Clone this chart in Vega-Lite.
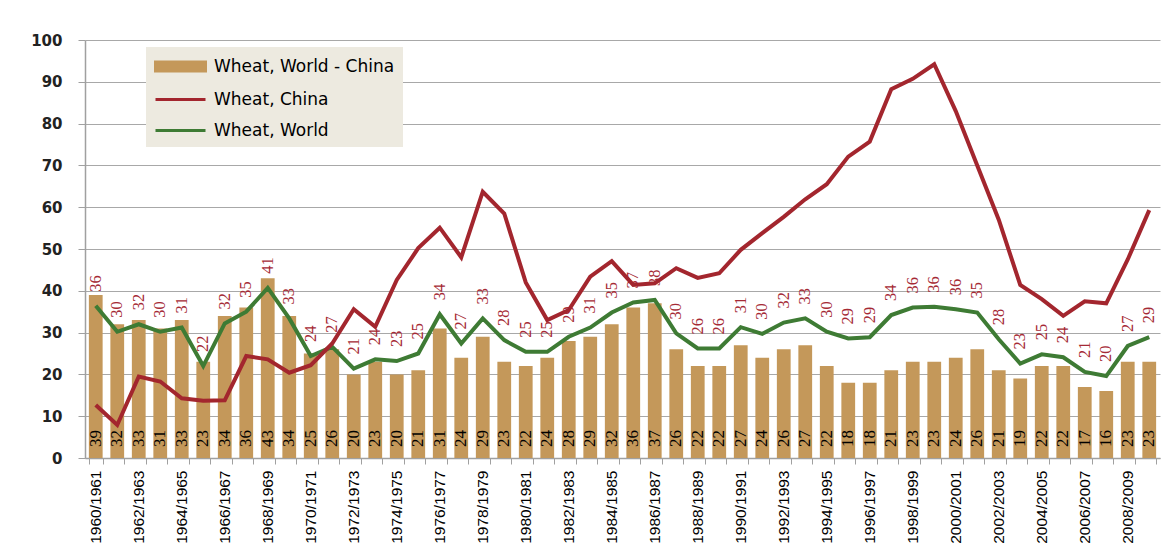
{
  "$schema": "https://vega.github.io/schema/vega-lite/v6.json",
  "width": 1075,
  "height": 418,
  "autosize": {"type": "none"},
  "padding": {"left": 85, "top": 40, "right": 5, "bottom": 100},
  "background": "white",
  "data": {
    "values": [
      {"season": "1960/1961", "diff": 39, "china": 12.7, "world": 36.4},
      {"season": "1961/1962", "diff": 32, "china": 7.9, "world": 30.2},
      {"season": "1962/1963", "diff": 33, "china": 19.5, "world": 32.0},
      {"season": "1963/1964", "diff": 31, "china": 18.3, "world": 30.2},
      {"season": "1964/1965", "diff": 33, "china": 14.3, "world": 31.2},
      {"season": "1965/1966", "diff": 23, "china": 13.7, "world": 22.0},
      {"season": "1966/1967", "diff": 34, "china": 13.8, "world": 32.2},
      {"season": "1967/1968", "diff": 36, "china": 24.4, "world": 35.0},
      {"season": "1968/1969", "diff": 43, "china": 23.6, "world": 40.7},
      {"season": "1969/1970", "diff": 34, "china": 20.4, "world": 33.4},
      {"season": "1970/1971", "diff": 25, "china": 22.2, "world": 24.4},
      {"season": "1971/1972", "diff": 26, "china": 27.4, "world": 26.6},
      {"season": "1972/1973", "diff": 20, "china": 35.6, "world": 21.4},
      {"season": "1973/1974", "diff": 23, "china": 31.4, "world": 23.6},
      {"season": "1974/1975", "diff": 20, "china": 42.6, "world": 23.2},
      {"season": "1975/1976", "diff": 21, "china": 50.2, "world": 25.0},
      {"season": "1976/1977", "diff": 31, "china": 55.1, "world": 34.4},
      {"season": "1977/1978", "diff": 24, "china": 48.0, "world": 27.4},
      {"season": "1978/1979", "diff": 29, "china": 63.7, "world": 33.4},
      {"season": "1979/1980", "diff": 23, "china": 58.5, "world": 28.2},
      {"season": "1980/1981", "diff": 22, "china": 42.0, "world": 25.4},
      {"season": "1981/1982", "diff": 24, "china": 33.0, "world": 25.4},
      {"season": "1982/1983", "diff": 28, "china": 35.4, "world": 29.0},
      {"season": "1983/1984", "diff": 29, "china": 43.4, "world": 31.2},
      {"season": "1984/1985", "diff": 32, "china": 47.1, "world": 34.8},
      {"season": "1985/1986", "diff": 36, "china": 41.4, "world": 37.2},
      {"season": "1986/1987", "diff": 37, "china": 41.8, "world": 37.8},
      {"season": "1987/1988", "diff": 26, "china": 45.4, "world": 29.8},
      {"season": "1988/1989", "diff": 22, "china": 43.1, "world": 26.2},
      {"season": "1989/1990", "diff": 22, "china": 44.2, "world": 26.2},
      {"season": "1990/1991", "diff": 27, "china": 49.8, "world": 31.3},
      {"season": "1991/1992", "diff": 24, "china": 53.8, "world": 29.7},
      {"season": "1992/1993", "diff": 26, "china": 57.7, "world": 32.4},
      {"season": "1993/1994", "diff": 27, "china": 61.9, "world": 33.4},
      {"season": "1994/1995", "diff": 22, "china": 65.5, "world": 30.2},
      {"season": "1995/1996", "diff": 18, "china": 72.1, "world": 28.6},
      {"season": "1996/1997", "diff": 18, "china": 75.7, "world": 28.9},
      {"season": "1997/1998", "diff": 21, "china": 88.2, "world": 34.2},
      {"season": "1998/1999", "diff": 23, "china": 90.7, "world": 36.0},
      {"season": "1999/2000", "diff": 23, "china": 94.2, "world": 36.2},
      {"season": "2000/2001", "diff": 24, "china": 83.0, "world": 35.6},
      {"season": "2001/2002", "diff": 26, "china": 70.0, "world": 34.8},
      {"season": "2002/2003", "diff": 21, "china": 57.0, "world": 28.4},
      {"season": "2003/2004", "diff": 19, "china": 41.4, "world": 22.6},
      {"season": "2004/2005", "diff": 22, "china": 38.0, "world": 24.8},
      {"season": "2005/2006", "diff": 22, "china": 34.0, "world": 24.1},
      {"season": "2006/2007", "diff": 17, "china": 37.5, "world": 20.6},
      {"season": "2007/2008", "diff": 16, "china": 37.0, "world": 19.6},
      {"season": "2008/2009", "diff": 23, "china": 47.5, "world": 26.8},
      {"season": "2009/2010", "diff": 23, "china": 59.3, "world": 28.9}
    ]
  },
  "encoding": {
    "x": {
      "field": "season",
      "type": "nominal",
      "sort": null,
      "title": null,
      "scale": {"paddingInner": 0.36, "paddingOuter": 0.18},
      "axis": {
        "labelAngle": 270,
        "labelAlign": "right",
        "labelBaseline": "middle",
        "labelFont": "Liberation Sans",
        "labelFontSize": 15.5,
        "labelColor": "#000000",
        "labelPadding": 6,
        "labelExpr": "parseInt(substring(datum.value, 0, 4)) % 2 == 0 ? datum.value : ''",
        "tickBand": "extent",
        "tickSize": 6,
        "tickColor": "#A0A0A0",
        "domainColor": "#A0A0A0",
        "domainWidth": 1.5,
        "labelOverlap": false,
        "grid": false
      }
    }
  },
  "layer": [
    {
      "mark": {"type": "bar"},
      "encoding": {
        "y": {
          "field": "diff",
          "type": "quantitative",
          "title": null,
          "scale": {"domain": [0, 100], "nice": false},
          "axis": {
            "values": [0, 10, 20, 30, 40, 50, 60, 70, 80, 90, 100],
            "labelFont": "DejaVu Sans",
            "labelFontWeight": "bold",
            "labelFontSize": 15,
            "labelColor": "#222222",
            "labelPadding": 16,
            "tickSize": 7,
            "tickColor": "#A0A0A0",
            "domainColor": "#A0A0A0",
            "domainWidth": 1.5,
            "gridColor": "#A8A8A8",
            "gridWidth": 1
          }
        },
        "color": {
          "datum": "Wheat, World - China",
          "scale": {
            "domain": ["Wheat, World - China", "Wheat, China", "Wheat, World"],
            "range": ["#C4985A", "#A3262E", "#3E7B34"]
          },
          "legend": {
            "title": null,
            "orient": "none",
            "legendX": 61,
            "legendY": 7,
            "fillColor": "#EDEAE0",
            "padding": 8,
            "symbolSize": 400,
            "symbolOffset": 15,
            "labelOffset": 22,
            "rowPadding": 11,
            "labelLimit": 0,
            "labelFont": "DejaVu Sans",
            "labelFontSize": 17,
            "labelColor": "#000000",
            "encode": {
              "symbols": {
                "update": {
                  "shape": {"signal": "datum.value === 'Wheat, World - China' ? 'M-2.5,-0.45H2.5V0.45H-2.5Z' : 'M-2.5,0H2.5'"},
                  "fill": {"signal": "datum.value === 'Wheat, World - China' ? '#C4985A' : 'transparent'"},
                  "stroke": {"signal": "datum.value === 'Wheat, World - China' ? 'transparent' : (datum.value === 'Wheat, China' ? '#A3262E' : '#3E7B34')"},
                  "strokeWidth": {"value": 3},
                  "opacity": {"value": 1}
                }
              }
            }
          }
        }
      }
    },
    {
      "mark": {
        "type": "text",
        "angle": 270,
        "align": "left",
        "baseline": "middle",
        "dx": 11,
        "font": "Liberation Serif",
        "fontSize": 17,
        "color": "#000000"
      },
      "encoding": {
        "y": {"datum": 0, "type": "quantitative"},
        "text": {"field": "diff", "type": "quantitative", "format": ".0f"}
      }
    },
    {
      "mark": {"type": "line", "strokeWidth": 4, "interpolate": "linear"},
      "encoding": {
        "y": {"field": "world", "type": "quantitative"},
        "color": {"datum": "Wheat, World"}
      }
    },
    {
      "mark": {
        "type": "text",
        "angle": 270,
        "align": "left",
        "baseline": "middle",
        "dx": 14,
        "font": "Liberation Serif",
        "fontSize": 16.5,
        "color": "#A52A35"
      },
      "encoding": {
        "y": {"field": "world", "type": "quantitative"},
        "text": {"field": "world", "type": "quantitative", "format": ".0f"}
      }
    },
    {
      "mark": {"type": "line", "strokeWidth": 4, "interpolate": "linear"},
      "encoding": {
        "y": {"field": "china", "type": "quantitative"},
        "color": {"datum": "Wheat, China"}
      }
    }
  ],
  "config": {
    "view": {"stroke": null}
  }
}
